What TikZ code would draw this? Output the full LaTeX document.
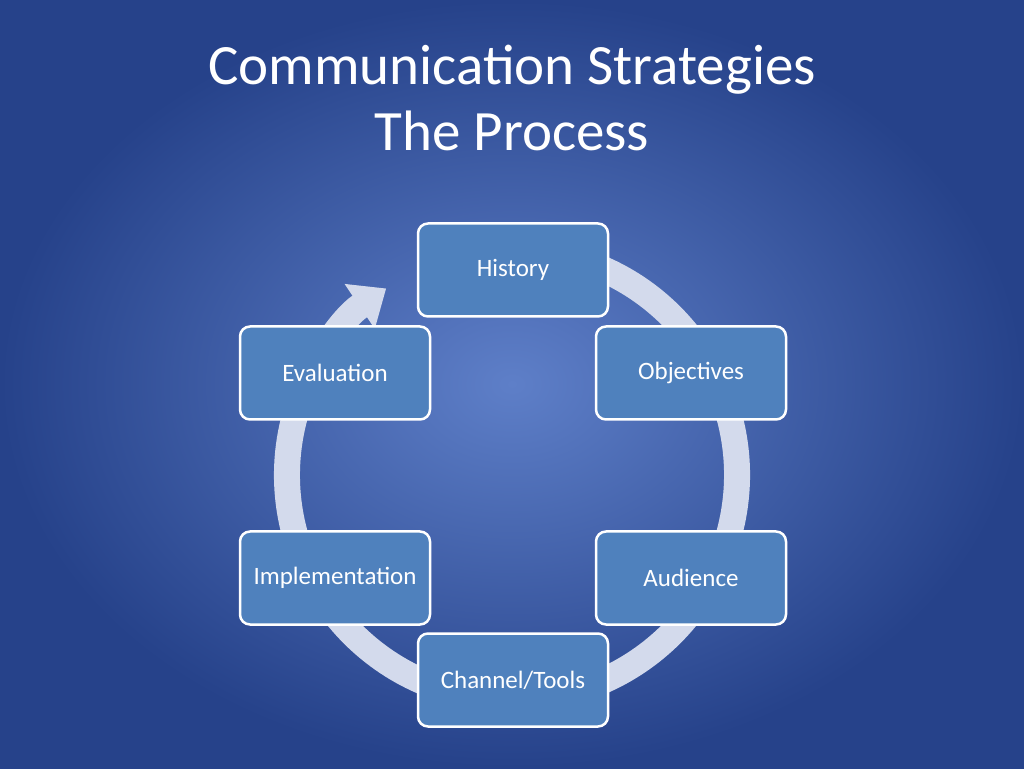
\documentclass[tikz,border=0pt]{standalone}
\usepackage{fontspec}
\setmainfont{Carlito}
\usetikzlibrary{arrows.meta}
\definecolor{bgin}{HTML}{5E7FC8}
\definecolor{bgout}{HTML}{26428A}
\definecolor{boxfill}{HTML}{4F81BD}
\definecolor{ringcol}{HTML}{D3DAEC}
\begin{document}
\begin{tikzpicture}[x=1pt, y=1pt, box/.style={draw=white, line width=2.5pt, rounded corners=10pt, fill=boxfill, minimum width=190pt, minimum height=93pt, text=white, font=\fontsize{25}{28}\selectfont}]
        % Background
        \shade[inner color=bgin, outer color=bgout] (0,0) rectangle (1024,768);
        \useasboundingbox (0,0) rectangle (1024,768);
        % Title
        \node[text=white, align=center, font=\fontsize{57}{66}\selectfont] (title) at (512,670) {Communication Strategies\\The Process};
        % Ring with arrow
        \draw[ringcol, line width=26pt, -{Triangle[width=52pt, length=32pt]}] (512,293) ++(75:225) arc[start angle=75, end angle=-236, radius=225];
        % Nodes
        \node[box] (hist) at (513,498) {History};
        \node[box] (obj) at (691,395) {Objectives};
        \node[box] (aud) at (691,190) {Audience};
        \node[box] (chan) at (513,88) {Channel/Tools};
        \node[box] (impl) at (335,190) {Implementation};
        \node[box] (eval) at (335,395) {Evaluation};
\end{tikzpicture}
\end{document}
